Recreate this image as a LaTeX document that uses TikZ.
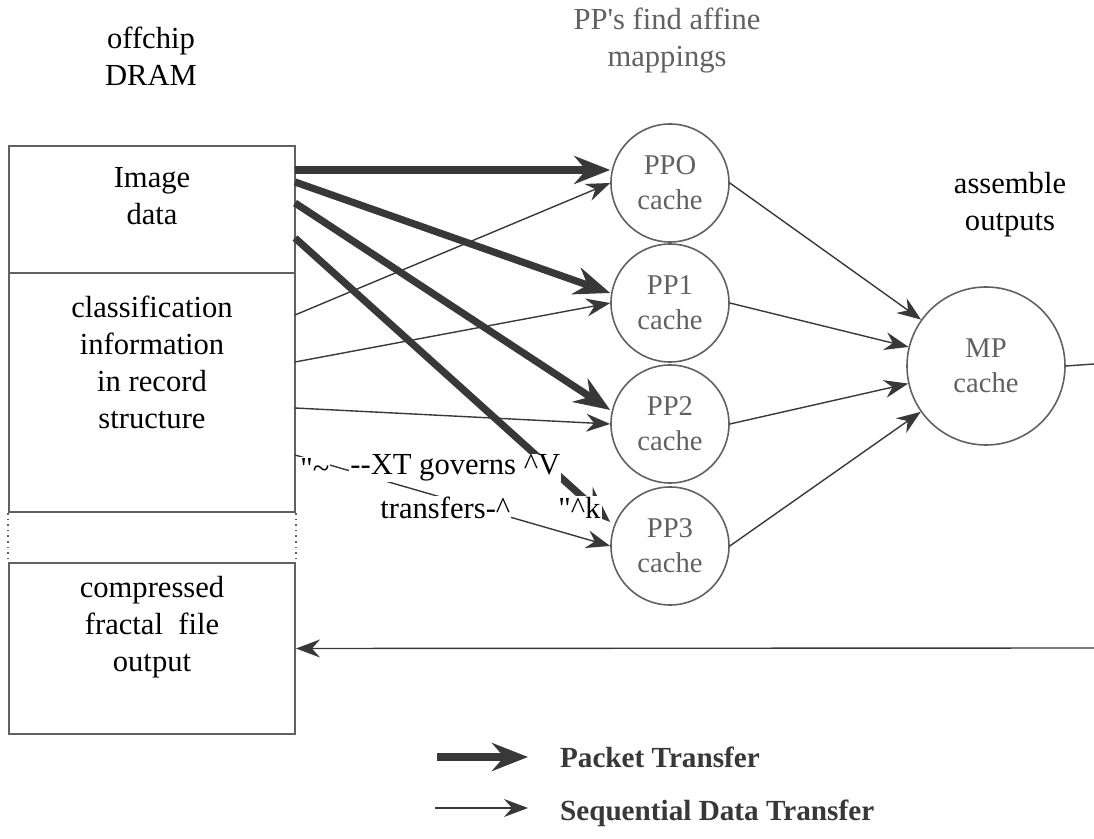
\documentclass[tikz,border=0pt]{standalone}
\usepackage{fontspec}
\setmainfont{Liberation Serif}
\usetikzlibrary{arrows.meta}
\tikzset{>=Stealth}
\definecolor{inkgray}{gray}{0.22}
\definecolor{scangray}{gray}{0.38}

\begin{document}
\begin{tikzpicture}[x=0.5pt,y=-0.5pt,
    every node/.style={black,align=center,font=\fontsize{15.3}{18.5}\selectfont},
    membox/.style={draw=scangray,line width=1pt,minimum width=143pt,inner sep=0pt},
    cachenode/.style={circle,draw=scangray,line width=0.8pt,minimum size=59pt,inner sep=0pt,text=scangray,font=\fontsize{14.3}{17.5}\selectfont},
    packet/.style={-{Stealth[length=18pt,width=14pt,inset=6pt]},line width=3.6pt,draw=inkgray},
    seqdata/.style={-{Stealth[length=12pt,width=9pt,inset=4pt]},line width=0.7pt,draw=inkgray},
    ocr/.style={fill=white,inner sep=0.5pt,anchor=west}]
    \useasboundingbox (0,0) rectangle (1094,839);
    % offchip memory
    \node (dram) at (151,56) {offchip\\DRAM};
    \node[membox,minimum height=63.5pt] (img) at (152,209.5) {};
    \node[membox,minimum height=119.5pt] (cls) at (152,392.5) {};
    \node[membox,minimum height=85.5pt] (cfo) at (152,648.5) {};
    \draw [scangray,dotted,line width=0.8pt] (cls.south west) -- (cfo.north west) (cls.south east) -- (cfo.north east);
    \node (imgtxt) at (152,196) {Image\\data};
    \node (clstxt) at (152,362) {classification\\information\\in record\\structure};
    \node (cfotxt) at (152,627) {compressed\\fractal\ \ file\\output};
    % processors
    \node[text=scangray] (pptxt) at (667,41) {PP\textquotesingle s\ find affine\\mappings};
    \foreach \i/\y/\t in {0/183/PPO,1/303/PP1,2/424/PP2,3/546/PP3}
      \node[cachenode] (pp\i) at (670,\y) {\t\\cache};
    \node (mptxt) at (1010,205) {assemble\\outputs};
    \node[cachenode,minimum size=79pt] (mp) at (986,366) {MP\\cache};
    % ports on the box edge
    \foreach \i/\y in {0/170,1/182,2/203,3/238} \coordinate (img\i) at (295,\y);
    \foreach \i/\y in {0/315,1/362,2/408,3/455} \coordinate (cls\i) at (295,\y);
    \coordinate (outR) at (1094,364);
    \coordinate (backR) at (1094,648);
    \draw [packet] (img0) -- ([yshift=6.5pt]pp0.west);
    \draw [packet] (img1) -- ([yshift=5pt]pp1.west);
    \draw [packet] (img2) -- ([yshift=7pt]pp2.west);
    \draw [packet] (img3) -- ([yshift=12pt]pp3.west);
    \foreach \i in {0,...,3} {
      \draw [seqdata] (cls\i) -- (pp\i.west);
      \draw [seqdata] (pp\i.east) -- (mp);
    }
    \draw [inkgray,line width=0.7pt] (mp.east) -- (outR);
    \draw [seqdata] (backR) -- (cfo.east);
    % scanned label pieces
    \node[ocr] (q1) at (299,468) {\textquotedbl\textasciitilde};
    \node[ocr] (q2) at (349,468) {-{}-XT governs\ \textasciicircum V};
    \node[ocr] (q3) at (379,508) {transfers-\textasciicircum};
    \node[ocr] (q4) at (557,508) {\textquotedbl\textasciicircum k};
    % legend
    \coordinate (pktA) at (437,757); \coordinate (pktB) at (528,757);
    \coordinate (seqA) at (435,808); \coordinate (seqB) at (528,808);
    \draw [packet,line width=4pt] (pktA) -- (pktB);
    \draw [seqdata] (seqA) -- (seqB);
    \node[anchor=west,text=inkgray,font=\fontsize{14.6}{17}\selectfont\bfseries] (pkttxt) at (553,757) {Packet\ Transfer};
    \node[anchor=west,text=inkgray,font=\fontsize{14.6}{17}\selectfont\bfseries] (seqtxt) at (553,813) {Sequential\ Data\ Transfer};
  \end{tikzpicture}
\end{document}
